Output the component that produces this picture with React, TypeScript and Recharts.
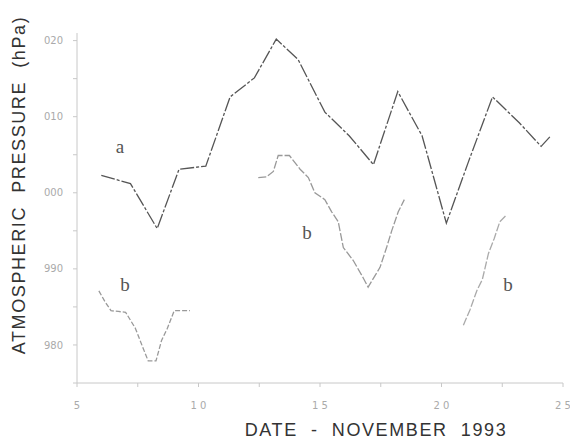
import React from "react";
import { LineChart, Line, XAxis, YAxis, ReferenceDot } from "recharts";

const seriesA = [
  { x: 6.0, y: 1002.3 }, { x: 7.2, y: 1001.2 }, { x: 8.3, y: 995.3 }, { x: 9.2, y: 1003.1 },
  { x: 10.3, y: 1003.5 }, { x: 11.3, y: 1012.6 }, { x: 12.3, y: 1015.1 }, { x: 13.2, y: 1020.2 },
  { x: 14.1, y: 1017.5 }, { x: 15.2, y: 1010.6 }, { x: 16.2, y: 1007.5 }, { x: 17.2, y: 1003.7 },
  { x: 18.2, y: 1013.3 }, { x: 19.2, y: 1007.5 }, { x: 20.2, y: 996.0 }, { x: 21.1, y: 1004.0 },
  { x: 22.1, y: 1012.6 }, { x: 23.2, y: 1009.2 }, { x: 24.1, y: 1006.1 }, { x: 24.5, y: 1007.5 },
];

const seriesB1 = [
  { x: 5.9, y: 987.1 }, { x: 6.15, y: 985.7 }, { x: 6.4, y: 984.5 }, { x: 6.7, y: 984.4 },
  { x: 7.0, y: 984.3 }, { x: 7.4, y: 982.2 }, { x: 7.73, y: 979.5 }, { x: 7.93, y: 977.9 },
  { x: 8.25, y: 977.9 }, { x: 8.48, y: 980.6 }, { x: 8.72, y: 982.2 }, { x: 9.0, y: 984.5 },
  { x: 9.37, y: 984.5 }, { x: 9.65, y: 984.5 },
];

const seriesB2 = [
  { x: 12.46, y: 1002.0 }, { x: 12.8, y: 1002.1 }, { x: 13.08, y: 1002.8 }, { x: 13.28, y: 1004.9 },
  { x: 13.74, y: 1004.9 }, { x: 14.18, y: 1003.1 }, { x: 14.52, y: 1002.0 }, { x: 14.79, y: 1000.0 },
  { x: 15.2, y: 999.1 }, { x: 15.48, y: 997.5 }, { x: 15.75, y: 996.2 }, { x: 15.96, y: 992.8 },
  { x: 16.37, y: 991.1 }, { x: 16.78, y: 988.8 }, { x: 16.98, y: 987.6 }, { x: 17.47, y: 990.2 },
  { x: 17.74, y: 992.8 }, { x: 17.95, y: 995.0 }, { x: 18.22, y: 997.5 }, { x: 18.47, y: 999.1 },
];

const seriesB3 = [
  { x: 20.9, y: 982.6 }, { x: 21.17, y: 984.6 }, { x: 21.45, y: 987.1 }, { x: 21.68, y: 988.6 },
  { x: 21.93, y: 992.0 }, { x: 22.17, y: 994.0 }, { x: 22.4, y: 996.2 }, { x: 22.68, y: 997.1 },
];

const xTicks = [5, 7.5, 10, 12.5, 15, 17.5, 20, 22.5, 25];
const yTicks = [975, 980, 985, 990, 995, 1000, 1005, 1010, 1015, 1020];
const yTickLabels: Record<number, string> = { 980: "980", 990: "990", 1000: "000", 1010: "010", 1020: "020" };

const seriesLabels = [
  { x: 6.77, y: 1006.1, text: "a" },
  { x: 6.98, y: 988.0, text: "b" },
  { x: 14.47, y: 994.8, text: "b" },
  { x: 22.74, y: 988.0, text: "b" },
];

const xTitle = "DATE\u00a0\u00a0-\u00a0\u00a0NOVEMBER\u00a0\u00a01993";
const yTitle = "ATMOSPHERIC\u00a0\u00a0PRESSURE\u00a0\u00a0(hPa)";

const xFmt = (v: number) => (v % 5 === 0 ? String(v).split("").join(" ") : "");
const yFmt = (v: number) => yTickLabels[v] ?? "";

const XTitle = (props: any) => {
  const vb = props.viewBox || {};
  return (
    <text
      x={vb.x + vb.width / 2 + 56}
      y={vb.y + vb.height - 5}
      textAnchor="middle"
      fill="#333"
      fontSize={18}
      fontFamily="Liberation Sans"
      letterSpacing={1.6}
    >
      {xTitle}
    </text>
  );
};

const YTitle = (props: any) => {
  const vb = props.viewBox || {};
  const cx = 25;
  const cy = vb.y + vb.height / 2 - 23;
  return (
    <text
      x={cx}
      y={cy}
      transform={`rotate(-90, ${cx}, ${cy})`}
      textAnchor="middle"
      fill="#333"
      fontSize={18}
      fontFamily="Liberation Sans"
      letterSpacing={1.6}
    >
      {yTitle}
    </text>
  );
};

export default function App() {
  return (
    <div style={{ position: "absolute", left: 0, top: 0, width: 570, height: 441, background: "#fff" }}>
      <LineChart width={570} height={441} margin={{ top: 33, right: 7, bottom: 0, left: 0 }}>
        <XAxis
          type="number"
          dataKey="x"
          domain={[5, 25]}
          ticks={xTicks}
          tickFormatter={xFmt}
          interval={0}
          height={58}
          stroke="#c8c8c8"
          tickSize={4}
          tick={{ fill: "#aaa", fontSize: 10, fontFamily: "DejaVu Sans" }}
          tickMargin={15}
          allowDataOverflow
          label={<XTitle />}
        />
        <YAxis
          type="number"
          dataKey="y"
          domain={[975, 1021]}
          ticks={yTicks}
          tickFormatter={yFmt}
          interval={0}
          width={77}
          stroke="#c8c8c8"
          tickSize={4}
          tick={{ fill: "#aaa", fontSize: 10, fontFamily: "DejaVu Sans" }}
          tickMargin={10}
          allowDataOverflow
          label={<YTitle />}
        />
        <Line data={seriesA} dataKey="y" type="linear" stroke="#555" strokeWidth={1.3} strokeDasharray="14 2 3 2" dot={false} isAnimationActive={false} />
        <Line data={seriesB1} dataKey="y" type="linear" stroke="#999" strokeWidth={1.3} strokeDasharray="5 2" dot={false} isAnimationActive={false} />
        <Line data={seriesB2} dataKey="y" type="linear" stroke="#999" strokeWidth={1.3} strokeDasharray="8 2" dot={false} isAnimationActive={false} />
        <Line data={seriesB3} dataKey="y" type="linear" stroke="#aaa" strokeWidth={1.3} strokeDasharray="8 2" dot={false} isAnimationActive={false} />
        {seriesLabels.map((l, i) => (
          <ReferenceDot
            key={i}
            x={l.x}
            y={l.y}
            r={0}
            fill="none"
            stroke="none"
            label={{ value: l.text, position: "center", style: { fill: "#555", fontSize: 19, fontFamily: "Liberation Serif" } }}
          />
        ))}
      </LineChart>
    </div>
  );
}
